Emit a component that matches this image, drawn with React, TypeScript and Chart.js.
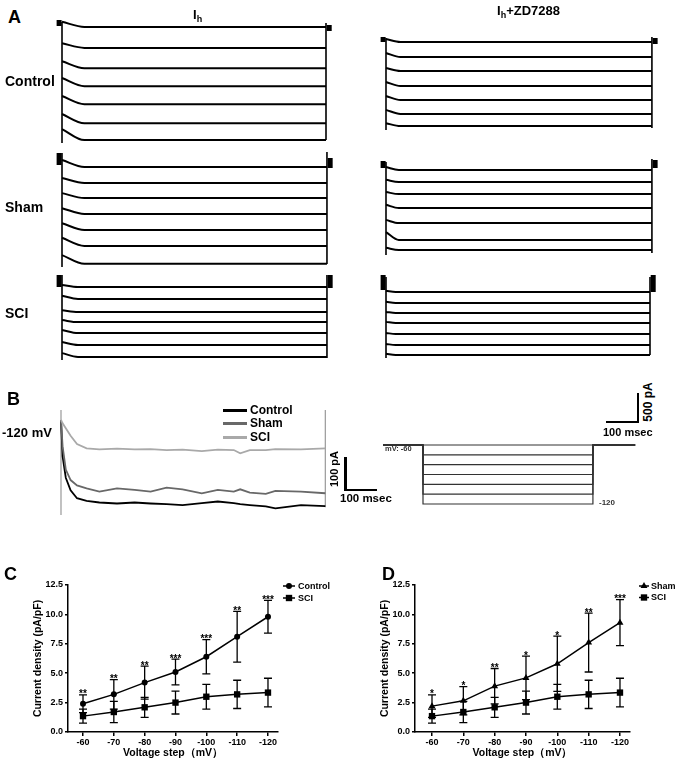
import React, { useEffect, useRef } from "react";
import { Chart, registerables } from "chart.js";

Chart.register(...registerables);

const FONT = "'Liberation Sans', Arial, Helvetica, sans-serif";
Chart.defaults.font.family = FONT;
Chart.defaults.color = "#000";

// ---------------- DATA ----------------
const sweepMv = [-60, -70, -80, -90, -100, -110, -120];

// Panel A: steady-state and initial current of each sweep (pA, relative to the -60 mV sweep)
const ctrlIhSteady = [0, -360, -710, -1020, -1330, -1660, -1950];
const ctrlIhInitial = [90, -280, -590, -880, -1190, -1500, -1760];
const ctrlZdSteady = [0, -260, -500, -760, -1000, -1240, -1450];
const ctrlZdInitial = [50, -190, -450, -690, -930, -1170, -1400];
const shamIhSteady = [0, -275, -535, -810, -1085, -1360, -1670];
const shamIhInitial = [120, -190, -450, -710, -970, -1220, -1520];
const shamZdSteady = [0, -205, -415, -655, -915, -1205, -1380];
const shamZdInitial = [50, -170, -380, -600, -860, -1070, -1340];
const sciIhSteady = [0, -205, -430, -605, -795, -1000, -1205];
const sciIhInitial = [35, -150, -400, -570, -740, -950, -1140];
const sciZdSteady = [0, -190, -360, -535, -725, -915, -1085];
const sciZdInitial = [20, -170, -345, -515, -705, -895, -1065];
// order: ctrlIh, ctrlZd, shamIh, shamZd, sciIh, sciZd
const familySettleMs = [70, 45, 70, 40, 50, 30];
const familyEndMs = [825, 831, 828, 831, 828, 825];
// capacitive transients [on top, on bottom, off top, off bottom] (pA)
const ctrlIhTransient = [86, -2000, 69, -1950];
const ctrlZdTransient = [69, -1517, 86, -1483];
const shamIhTransient = [241, -1724, 259, -1672];
const shamZdTransient = [138, -1466, 190, -1431];
const sciIhTransient = [207, -1259, 207, -1224];
const sciZdTransient = [259, -1138, 259, -1086];
// tail artefacts [before top, before bottom, after top, after bottom] (pA)
const ctrlIhTail = [121, 17, 34, -69];
const ctrlZdTail = [86, 0, 69, -34];
const shamIhTail = [241, 34, 155, -17];
const shamZdTail = [155, 34, 172, 34];
const sciIhTail = [207, 0, 207, -17];
const sciZdTail = [293, 34, 293, 0];

// Panel B: -120 mV sweeps (ms, pA)
const bTimeMs = [0, 5, 15, 30, 50, 80, 120, 175, 230, 280, 330, 380, 440, 490, 540, 560, 590, 640, 670, 750, 826];
const bControl = [0, -110, -175, -213, -237, -245, -250, -253, -250, -253, -255, -258, -252, -247, -252, -255, -258, -262, -268, -258, -261];
const bSham = [0, -80, -150, -182, -198, -207, -217, -207, -212, -217, -205, -210, -222, -212, -217, -210, -220, -224, -215, -217, -222];
const bSci = [0, -10, -25, -48, -73, -86, -89, -87, -89, -88, -91, -90, -94, -90, -91, -101, -91, -91, -88, -89, -86];
const bTransient = [30, -288, 30, -264];

// Voltage protocol
const protocolHoldMv = -60;
const protocolTimesMs = [0, 125, 656, 788];

// Panels C and D (pA/pF)
const controlMean = [2.4, 3.2, 4.2, 5.1, 6.4, 8.1, 9.8];
const controlSem = [0.75, 1.25, 1.4, 1.1, 1.45, 2.15, 1.4];
const sciMean = [1.35, 1.7, 2.1, 2.5, 3.0, 3.2, 3.35];
const sciSem = [0.6, 0.9, 0.85, 0.97, 1.05, 1.2, 1.22];
const shamMean = [2.2, 2.65, 3.9, 4.6, 5.8, 7.6, 9.3];
const shamSem = [0.95, 1.2, 1.5, 1.85, 2.35, 2.5, 1.95];
const controlVsSciStars = ["**", "**", "**", "***", "***", "**", "***"];
const shamVsSciStars = ["*", "*", "**", "*", "*", "**", "***"];

// ---------------- helpers ----------------
type Frame = {
  left: number; top: number; width: number; height: number;
  x0: number; y0: number; xPerPx: number; yPerPx: number; yRef?: number;
};

const MS_PER_PX = 3.125;
const PA_PER_PX_A = 17.24;

function line(data: any[], width: number, color = "#000", extra: any = {}) {
  return { data, borderColor: color, borderWidth: width, pointRadius: 0, fill: false, ...extra };
}

function familyDatasets(steady: number[], initial: number[], idx: number, transient: number[], tail: number[]) {
  const settle = familySettleMs[idx];
  const end = familyEndMs[idx];
  const ds: any[] = steady.map((s, i) =>
    line([{ x: 0, y: initial[i] }, { x: settle, y: s }, { x: end, y: s }], 2, "#000", { cubicInterpolationMode: "monotone" })
  );
  ds.push(line([{ x: 0, y: transient[0] }, { x: 0, y: transient[1] }], 1.6));
  ds.push(line([{ x: end, y: transient[2] }, { x: end, y: transient[3] }], 1.6));
  ds.push(line([{ x: -9, y: tail[0] }, { x: -9, y: tail[1] }], 5));
  ds.push(line([{ x: end + 10, y: tail[2] }, { x: end + 10, y: tail[3] }], 5));
  return ds;
}

function TraceChart({ frame, build }: { frame: Frame; build: () => any[] }) {
  const ref = useRef<HTMLCanvasElement>(null);
  useEffect(() => {
    const f = frame;
    const yRef = f.yRef ?? 0;
    const chart = new Chart(ref.current!, {
      type: "line",
      data: { datasets: build() },
      options: {
        animation: false,
        responsive: false,
        events: [],
        layout: { padding: 0 },
        plugins: { legend: { display: false }, tooltip: { enabled: false } },
        elements: { point: { radius: 0 } },
        scales: {
          x: { type: "linear", display: false, min: (f.left - f.x0) * f.xPerPx, max: (f.left + f.width - f.x0) * f.xPerPx },
          y: {
            type: "linear", display: false,
            min: yRef + (f.y0 - f.top - f.height) * f.yPerPx,
            max: yRef + (f.y0 - f.top) * f.yPerPx,
          },
        },
      } as any,
    });
    return () => chart.destroy();
  }, []);
  return (
    <canvas ref={ref} width={frame.width} height={frame.height}
      style={{ position: "absolute", left: frame.left, top: frame.top }} />
  );
}

function drawMarker(ctx: CanvasRenderingContext2D, style: string, x: number, y: number, r: number) {
  ctx.beginPath();
  if (style === "rect") {
    const s = r * Math.SQRT1_2;
    ctx.rect(x - s, y - s, 2 * s, 2 * s);
  } else if (style === "triangle") {
    let rad = 0;
    ctx.moveTo(x + Math.sin(rad) * r, y - Math.cos(rad) * r);
    rad += (2 * Math.PI) / 3;
    ctx.lineTo(x + Math.sin(rad) * r, y - Math.cos(rad) * r);
    rad += (2 * Math.PI) / 3;
    ctx.lineTo(x + Math.sin(rad) * r, y - Math.cos(rad) * r);
    ctx.closePath();
  } else {
    ctx.arc(x, y, r, 0, Math.PI * 2);
  }
  ctx.fill();
}

const ivExtras = {
  id: "ivExtras",
  afterDatasetsDraw(chart: any, _args: any, opts: any) {
    const { ctx } = chart;
    const x = chart.scales.x;
    const y = chart.scales.y;
    ctx.save();
    ctx.strokeStyle = "#000";
    ctx.fillStyle = "#000";
    ctx.lineWidth = 1.3;
    chart.data.datasets.forEach((ds: any) => {
      if (!ds.errors) return;
      ds.data.forEach((pt: any, i: number) => {
        const px = x.getPixelForValue(pt.x);
        const yt = y.getPixelForValue(pt.y + ds.errors[i]);
        const yb = y.getPixelForValue(pt.y - ds.errors[i]);
        ctx.beginPath();
        ctx.moveTo(px, yt); ctx.lineTo(px, yb);
        ctx.moveTo(px - 4, yt); ctx.lineTo(px + 4, yt);
        ctx.moveTo(px - 4, yb); ctx.lineTo(px + 4, yb);
        ctx.stroke();
        if (ds.stars && ds.stars[i]) {
          ctx.font = "bold 10px " + FONT;
          ctx.textAlign = "center";
          ctx.textBaseline = "alphabetic";
          ctx.fillText(ds.stars[i], px, yt + 2.5);
        }
      });
    });
    // legend
    const lg = opts.box;
    if (lg) {
      const items = chart.data.datasets.slice().reverse();
      items.forEach((ds: any, k: number) => {
        const ly = lg.y + k * lg.dy;
        ctx.lineWidth = 1.5;
        ctx.beginPath();
        ctx.moveTo(lg.x1, ly); ctx.lineTo(lg.x2, ly);
        ctx.stroke();
        drawMarker(ctx, ds.pointStyle, (lg.x1 + lg.x2) / 2, ly, ds.pointRadius);
        ctx.font = "bold 9px " + FONT;
        ctx.textAlign = "left";
        ctx.textBaseline = "middle";
        ctx.fillText(ds.label, lg.textX, ly + 0.5);
      });
    }
    ctx.restore();
  },
};

type IVProps = {
  left: number; top: number; width: number; height: number;
  yAxisWidth: number; firstTickPx: number; stepPx: number; rightPx: number;
  yTitleOffset: number; build: () => any[]; legendBox: any;
};

function IVChart(p: IVProps) {
  const ref = useRef<HTMLCanvasElement>(null);
  useEffect(() => {
    const vAt = (px: number) => sweepMv[0] - ((px - p.firstTickPx) / p.stepPx) * 10;
    const xMax = vAt(p.yAxisWidth);
    const xMin = vAt(p.rightPx);
    const tickFont = { size: 9, weight: "bold", family: FONT };
    const titleFont = { size: 10.5, weight: "bold", family: FONT };
    const chart = new Chart(ref.current!, {
      type: "line",
      data: { datasets: p.build() },
      options: {
        animation: false,
        responsive: false,
        events: [],
        layout: { padding: { left: 0, top: 25, right: p.width - p.rightPx, bottom: 0 } },
        plugins: {
          legend: { display: false },
          tooltip: { enabled: false },
          ivExtras: { box: p.legendBox },
        },
        scales: {
          x: {
            type: "linear",
            reverse: true,
            min: xMin,
            max: xMax,
            afterBuildTicks: (s: any) => { s.ticks = sweepMv.map((v) => ({ value: v })); },
            afterFit: (s: any) => { s.height = 33; },
            ticks: { callback: (v: any) => String(v), font: tickFont, color: "#000", padding: 1, maxRotation: 0, autoSkip: false },
            grid: { drawOnChartArea: false, drawTicks: true, tickLength: 4, color: "#000", lineWidth: 1.5 },
            border: { display: true, color: "#000", width: 1.5 },
            title: { display: true, text: "Voltage step（mV）", font: titleFont, color: "#000", padding: { top: 0, bottom: 5.7 } },
          },
          y: {
            type: "linear",
            min: 0,
            max: 12.5,
            afterFit: (s: any) => { s.width = p.yAxisWidth; },
            ticks: { stepSize: 2.5, callback: (v: any) => Number(v).toFixed(1), font: tickFont, color: "#000", padding: 2 },
            grid: { drawOnChartArea: false, drawTicks: true, tickLength: 3, color: "#000", lineWidth: 1.5 },
            border: { display: true, color: "#000", width: 1.5 },
            title: { display: true, text: "Current density (pA/pF)", font: titleFont, color: "#000", padding: { top: p.yTitleOffset, bottom: 0 } },
          },
        },
      } as any,
      plugins: [ivExtras as any],
    });
    return () => chart.destroy();
  }, []);
  return (
    <canvas ref={ref} width={p.width} height={p.height}
      style={{ position: "absolute", left: p.left, top: p.top }} />
  );
}

function ivSeries(label: string, mean: number[], sem: number[], style: string, radius: number, stars?: string[]) {
  return {
    label,
    data: sweepMv.map((v, i) => ({ x: v, y: mean[i] })),
    errors: sem,
    stars,
    borderColor: "#000",
    backgroundColor: "#000",
    borderWidth: 1.5,
    pointStyle: style,
    pointRadius: radius,
    pointBorderWidth: 0,
    pointBackgroundColor: "#000",
    tension: 0,
    fill: false,
  };
}

function Label({ x, y, size, children, rotate = false, color = "#000" }: any) {
  const style: any = {
    position: "absolute", fontSize: size, lineHeight: 1, whiteSpace: "nowrap",
    fontWeight: "bold", fontFamily: FONT, color,
  };
  if (rotate) {
    style.left = x; style.top = y; style.transform = "translate(-50%,-50%) rotate(-90deg)";
  } else {
    style.left = x; style.top = y - size / 2;
  }
  return <div style={style}>{children}</div>;
}

function Rect({ x, y, w, h, color = "#000" }: any) {
  return <div style={{ position: "absolute", left: x, top: y, width: w, height: h, background: color }} />;
}

// ---------------- layout frames ----------------
const frameCtrlIh: Frame = { left: 48, top: 10, width: 292, height: 140, x0: 62, y0: 27, xPerPx: MS_PER_PX, yPerPx: PA_PER_PX_A };
const frameCtrlZd: Frame = { left: 372, top: 25, width: 300, height: 112, x0: 386, y0: 42, xPerPx: MS_PER_PX, yPerPx: PA_PER_PX_A };
const frameShamIh: Frame = { left: 48, top: 145, width: 292, height: 128, x0: 62, y0: 167, xPerPx: MS_PER_PX, yPerPx: PA_PER_PX_A };
const frameShamZd: Frame = { left: 372, top: 150, width: 300, height: 112, x0: 386, y0: 170, xPerPx: MS_PER_PX, yPerPx: PA_PER_PX_A };
const frameSciIh: Frame = { left: 48, top: 268, width: 292, height: 97, x0: 62, y0: 287, xPerPx: MS_PER_PX, yPerPx: PA_PER_PX_A };
const frameSciZd: Frame = { left: 372, top: 268, width: 300, height: 97, x0: 386, y0: 292, xPerPx: MS_PER_PX, yPerPx: PA_PER_PX_A };
const frameB: Frame = { left: 50, top: 400, width: 285, height: 125, x0: 61, y0: 420, xPerPx: MS_PER_PX, yPerPx: 3.03 };
const frameProtocol: Frame = { left: 375, top: 435, width: 270, height: 80, x0: 383, y0: 445, xPerPx: MS_PER_PX, yPerPx: 60 / 59, yRef: -60 };

const bColors = { control: "#000000", sham: "#686868", sci: "#a9a9a9" };

export default function App() {
  return (
    <div style={{ position: "fixed", left: 0, top: 0, width: 677, height: 765, background: "#fff", overflow: "hidden" }}>
      {/* Panel A */}
      <TraceChart frame={frameCtrlIh} build={() => familyDatasets(ctrlIhSteady, ctrlIhInitial, 0, ctrlIhTransient, ctrlIhTail)} />
      <TraceChart frame={frameCtrlZd} build={() => familyDatasets(ctrlZdSteady, ctrlZdInitial, 1, ctrlZdTransient, ctrlZdTail)} />
      <TraceChart frame={frameShamIh} build={() => familyDatasets(shamIhSteady, shamIhInitial, 2, shamIhTransient, shamIhTail)} />
      <TraceChart frame={frameShamZd} build={() => familyDatasets(shamZdSteady, shamZdInitial, 3, shamZdTransient, shamZdTail)} />
      <TraceChart frame={frameSciIh} build={() => familyDatasets(sciIhSteady, sciIhInitial, 4, sciIhTransient, sciIhTail)} />
      <TraceChart frame={frameSciZd} build={() => familyDatasets(sciZdSteady, sciZdInitial, 5, sciZdTransient, sciZdTail)} />

      <Label x={8} y={17} size={18}>A</Label>
      <Label x={193} y={14} size={13}>I<span style={{ fontSize: 9, position: "relative", top: 3 }}>h</span></Label>
      <Label x={497} y={10} size={13}>I<span style={{ fontSize: 9, position: "relative", top: 3 }}>h</span>+ZD7288</Label>
      <Label x={5} y={81} size={14}>Control</Label>
      <Label x={5} y={207} size={14}>Sham</Label>
      <Label x={5} y={313} size={14}>SCI</Label>

      {/* Panel B */}
      <TraceChart
        frame={frameB}
        build={() => [
          line(bTimeMs.map((t, i) => ({ x: t, y: bSci[i] })), 1.8, bColors.sci),
          line(bTimeMs.map((t, i) => ({ x: t, y: bSham[i] })), 1.8, bColors.sham),
          line(bTimeMs.map((t, i) => ({ x: t, y: bControl[i] })), 1.8, bColors.control),
          line([{ x: 0, y: bTransient[0] }, { x: 0, y: bTransient[1] }], 1.2, "#999"),
          line([{ x: bTimeMs[bTimeMs.length - 1], y: bTransient[2] }, { x: bTimeMs[bTimeMs.length - 1], y: bTransient[3] }], 1.2, "#999"),
        ]}
      />
      <TraceChart
        frame={frameProtocol}
        build={() =>
          sweepMv.map((v) =>
            line(
              [
                { x: protocolTimesMs[0], y: protocolHoldMv },
                { x: protocolTimesMs[1], y: v },
                { x: protocolTimesMs[2], y: protocolHoldMv },
                { x: protocolTimesMs[3], y: protocolHoldMv },
              ],
              1.2, "#333", { stepped: "before" }
            )
          )
        }
      />
      <Label x={7} y={398.5} size={18}>B</Label>
      <Label x={2} y={432} size={13}>-120 mV</Label>
      {/* B legend */}
      <Rect x={223} y={408.5} w={24} h={3} color={bColors.control} />
      <Rect x={223} y={421.5} w={24} h={3} color={bColors.sham} />
      <Rect x={223} y={435.5} w={24} h={3} color={bColors.sci} />
      <Label x={250} y={410} size={12}>Control</Label>
      <Label x={250} y={423} size={12}>Sham</Label>
      <Label x={250} y={437} size={12}>SCI</Label>
      {/* B scale bar */}
      <Rect x={344} y={457} w={2.5} h={34} />
      <Rect x={344} y={488.5} w={33} h={2.5} />
      <Label x={334} y={469} size={11} rotate>100 pA</Label>
      <Label x={340} y={498.5} size={11.5}>100 msec</Label>
      {/* A scale bar */}
      <Rect x={636.5} y={393} w={2.5} h={30} />
      <Rect x={606} y={420.5} w={33} h={2.5} />
      <Label x={648} y={402} size={12} rotate>500 pA</Label>
      <Label x={603} y={432} size={11}>100 msec</Label>
      {/* protocol labels */}
      <Label x={385} y={449} size={7.5} color="#333">mV: -60</Label>
      <Label x={599} y={503} size={8} color="#333">-120</Label>

      {/* Panel C */}
      <IVChart
        left={0} top={560} width={340} height={205}
        yAxisWidth={68} firstTickPx={83} stepPx={30.83} rightPx={278}
        yTitleOffset={31.4}
        legendBox={{ x1: 283, x2: 295, textX: 298, y: 26, dy: 12 }}
        build={() => [
          ivSeries("SCI", sciMean, sciSem, "rect", 4.5),
          ivSeries("Control", controlMean, controlSem, "circle", 3, controlVsSciStars),
        ]}
      />
      <Label x={4} y={573.5} size={18}>C</Label>

      {/* Panel D */}
      <IVChart
        left={337} top={560} width={340} height={205}
        yAxisWidth={78} firstTickPx={95} stepPx={31.33} rightPx={293}
        yTitleOffset={41.4}
        legendBox={{ x1: 302, x2: 312, textX: 314, y: 26, dy: 11.5 }}
        build={() => [
          ivSeries("SCI", sciMean, sciSem, "rect", 4.5),
          ivSeries("Sham", shamMean, shamSem, "triangle", 4, shamVsSciStars),
        ]}
      />
      <Label x={382} y={573.5} size={18}>D</Label>
    </div>
  );
}
